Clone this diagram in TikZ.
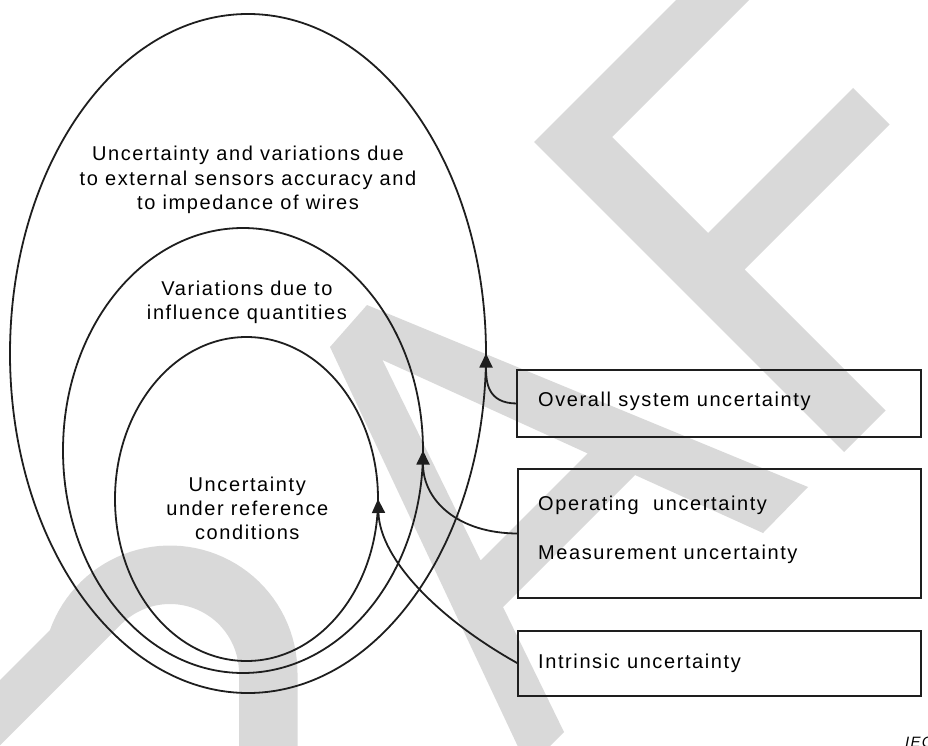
\documentclass[tikz,border=0pt]{standalone}
\usepackage{fontspec}
\setmainfont{Liberation Sans}[LetterSpace=8]
\usetikzlibrary{shapes.geometric,arrows.meta}
\definecolor{wm}{RGB}{217,217,217}
\definecolor{ink}{RGB}{30,30,30}
\begin{document}
\begin{tikzpicture}[x=1pt,y=-1pt,
  ell/.style={draw=ink, line width=1.8pt, ellipse, inner sep=0pt, outer sep=0pt},
  box/.style={draw=ink, line width=2pt, rectangle, inner sep=0pt, outer sep=0pt},
  lbl/.style={inner sep=0pt, font=\fontsize{20}{24}\selectfont, text=black},
  conn/.style={draw=ink, line width=1.8pt, -{Triangle[length=14pt,width=13pt]}},
  wmark/.style={fill=wm, draw=none}]
\useasboundingbox (0,0) rectangle (928,746);
% watermark
\fill[wmark, even odd rule] (330,347) -- (367,305) -- (808,487) -- (763,533) -- (635,475) -- (503,607) -- (564,732) -- (528,768) -- cycle
  (382.5,360) -- (587.6,453.4) -- (480.6,560.4) -- cycle;
\fill[wmark] (696,-20) -- (769,-20) -- (612,137) -- (708,233) -- (853,88) -- (889.5,124.5) -- (744.5,269.5) -- (885.5,410.5) -- (844,452) -- (534,142) -- cycle;
\fill[wmark] (-10,690) -- (50,630)
  -- plot[domain=199.7:360, samples=50] ({170+127.5*cos(\x)},{673+127.5*sin(\x)})
  -- (297.5,760) -- (239,760)
  -- plot[domain=360:225, samples=50] ({170+69*cos(\x)},{673+69*sin(\x)})
  -- (-15,760.4) -- cycle;
% ellipses
\node[ell, minimum width=476pt, minimum height=679pt] (outer) at (248,353.5) {};
\node[ell, minimum width=360pt, minimum height=445pt] (middle) at (243,450.5) {};
\node[ell, minimum width=263pt, minimum height=324pt] (inner) at (246.5,499) {};
% boxes
\node[box, minimum width=404pt, minimum height=67pt] (b1) at (719,403.5) {};
\node[box, minimum width=403pt, minimum height=129pt] (b2) at (719.5,533.5) {};
\node[box, minimum width=403pt, minimum height=65pt] (b3) at (719.5,663.5) {};
% connectors
\draw[conn] (b1.west) .. controls +(-30,0) and +(0,28) .. (outer.east);
\draw[conn] (b2.west) .. controls +(-60,0) and +(0,50) .. (middle.east);
\draw[conn] (b3.west) .. controls (440,620) and (380,560) .. (inner.east);
% ellipse texts
\node[lbl, anchor=base] (o1) at (248,160.7) {Uncertainty and variations due};
\node[lbl, anchor=base] (o2) at (248,185.2) {to external sensors accuracy and};
\node[lbl, anchor=base] (o3) at (248,209.7) {to impedance of wires};
\node[lbl, anchor=base] (m1) at (247,295) {Variations due to};
\node[lbl, anchor=base] (m2) at (247,319.3) {influence quantities};
\node[lbl, anchor=base] (i1) at (247.3,491) {Uncertainty};
\node[lbl, anchor=base] (i2) at (247.3,515.5) {under reference};
\node[lbl, anchor=base] (i3) at (247.3,539.5) {conditions};
% box texts
\node[lbl, anchor=base west] (t1) at (538,406.7) {Overall system uncertainty};
\node[lbl, anchor=base west] (t2) at (538,510.7) {Operating\ \ uncertainty};
\node[lbl, anchor=base west] (t3) at (538,559.3) {Measurement uncertainty};
\node[lbl, anchor=base west] (t4) at (538,668.3) {Intrinsic uncertainty};
% source mark (cut off at the picture edge, as in the reference)
\node[inner sep=0pt, anchor=north west, font=\fontsize{15}{17}\selectfont\itshape] (iec) at (905,737) {IEC};
\end{tikzpicture}
\end{document}
